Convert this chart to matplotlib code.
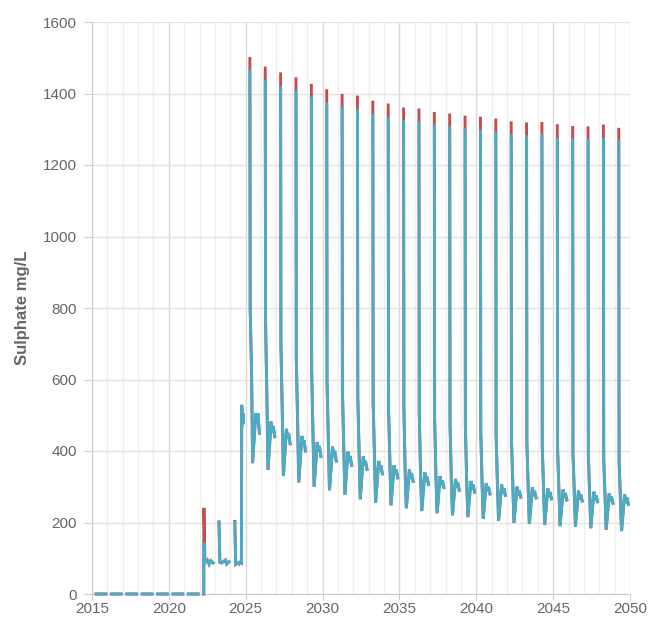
import numpy as np
import matplotlib
matplotlib.use("Agg")
import matplotlib.pyplot as plt
from matplotlib.ticker import MultipleLocator

plt.rcParams['font.family'] = ['Liberation Sans', 'DejaVu Sans']

# ---- data -------------------------------------------------------------
# years before discharge begins: sulphate stays at zero
zero_years = list(range(2015, 2022))

# transition years 2022-2024 (time, blue value); red differs only at peaks
early_t = [
    [2022.27, 2022.28, 2022.35, 2022.50, 2022.62, 2022.73, 2022.88],
    [2023.26, 2023.32, 2023.42, 2023.53, 2023.68, 2023.76, 2023.90],
    [2024.29, 2024.35, 2024.44, 2024.57, 2024.67, 2024.72, 2024.74, 2024.78, 2024.82, 2024.86],
]
early_blue = [
    [0, 143, 88, 95, 83, 93, 87],
    [200, 88, 87, 90, 95, 84, 90],
    [200, 84, 88, 84, 90, 88, 529, 470, 505, 480],
]
early_red = [
    [0, 241, 88, 95, 83, 93, 87],
    [202, 88, 87, 90, 95, 84, 90],
    [203, 84, 88, 84, 90, 88, 529, 470, 505, 480],
]

# annual flushing cycles 2025-2049
cycle_years = list(range(2025, 2050))
peak_red = [1498, 1471, 1455, 1441, 1423, 1408, 1395, 1390, 1376, 1368, 1357, 1354, 1344,
            1340, 1334, 1331, 1326, 1318, 1315, 1316, 1310, 1305, 1304, 1309, 1300]
peak_blue = [1463, 1435, 1416, 1405, 1387, 1371, 1360, 1352, 1338, 1330, 1321, 1318, 1310,
             1304, 1298, 1295, 1290, 1282, 1279, 1282, 1273, 1270, 1269, 1272, 1265]
drop = [800, 765, 700, 660, 625, 595, 570, 552, 535, 522, 520, 505, 492,
        480, 468, 456, 445, 432, 422, 414, 405, 396, 388, 380, 372]
knee = [620, 545, 505, 475, 450, 430, 412, 396, 382, 370, 330, 325, 320,
        315, 310, 305, 300, 296, 292, 288, 284, 280, 276, 271, 263]
trough = [366, 347, 330, 312, 300, 290, 278, 265, 255, 248, 240, 232, 226,
          220, 215, 210, 205, 199, 196, 193, 190, 188, 184, 180, 176]
bump = [506, 482, 462, 442, 425, 412, 398, 385, 372, 360, 348, 340, 330,
        322, 316, 310, 306, 300, 298, 295, 292, 289, 286, 282, 279]
dip = [478, 452, 435, 415, 398, 385, 372, 360, 348, 336, 322, 314, 305,
       298, 292, 286, 282, 276, 274, 271, 268, 265, 262, 258, 255]
bump2 = [506, 470, 450, 430, 414, 400, 386, 372, 360, 348, 338, 328, 318,
         312, 306, 300, 296, 290, 288, 285, 282, 279, 276, 272, 270]
tail = [450, 440, 420, 400, 385, 372, 360, 348, 336, 325, 315, 306, 298,
        290, 285, 280, 276, 271, 269, 266, 263, 260, 258, 254, 251]

# timing within each year (fraction of a year)
onset = 0.27
season_end = 0.90
cycle_offsets = [0.0, 0.02, 0.11, 0.18, 0.38, 0.45, 0.52, 0.62]

RED = '#c0504d'
BLUE = '#4bacc6'


def build_series(peaks, early):
    t_all, v_all = [], []
    for y in zero_years:
        t_all += [y + onset, y + season_end, np.nan]
        v_all += [0, 0, np.nan]
    for ts, vs in zip(early_t, early):
        t_all += list(ts) + [np.nan]
        v_all += list(vs) + [np.nan]
    for i, y in enumerate(cycle_years):
        vals = [peaks[i], drop[i], knee[i], trough[i], bump[i], dip[i], bump2[i], tail[i]]
        t_all += [y + onset + o for o in cycle_offsets] + [np.nan]
        v_all += vals + [np.nan]
    return np.array(t_all, dtype=float), np.array(v_all, dtype=float)


t_red, v_red = build_series(peak_red, early_red)
t_blue, v_blue = build_series(peak_blue, early_blue)

# ---- figure -----------------------------------------------------------
fig = plt.figure(figsize=(6.53, 6.25), dpi=100)
ax = fig.add_axes([92 / 653, 31 / 625, 538 / 653, 572 / 625])

ax.plot(t_red, v_red, color=RED, lw=2.1, solid_joinstyle='miter', clip_on=False, zorder=3)
ax.plot(t_blue, v_blue, color=BLUE, lw=2.1, solid_joinstyle='miter', clip_on=False, zorder=4)

ax.set_xlim(2015, 2050)
ax.set_ylim(0, 1600)
ax.xaxis.set_major_locator(MultipleLocator(5))
ax.xaxis.set_minor_locator(MultipleLocator(1))
ax.yaxis.set_major_locator(MultipleLocator(200))

ax.grid(which='major', axis='x', color='#d9d9d9', lw=1.0, zorder=0)
ax.grid(which='minor', axis='x', color='#efefef', lw=1.0, zorder=0)
ax.grid(which='major', axis='y', color='#e3e3e3', lw=1.0, zorder=0)
ax.set_axisbelow(True)

for side in ('top', 'right'):
    ax.spines[side].set_visible(False)
ax.spines['left'].set_color('#cccccc')
ax.spines['bottom'].set_color('#cccccc')

ax.tick_params(axis='y', which='major', length=6, color='#cccccc', labelcolor='#666666',
               labelsize=11, pad=5)
ax.tick_params(axis='x', which='major', length=4, color='#cccccc', labelcolor='#666666',
               labelsize=11, pad=2)
ax.tick_params(axis='x', which='minor', length=0)

ax.set_xticklabels([str(int(v)) for v in ax.get_xticks()])
ax.set_ylabel('Sulphate mg/L', fontsize=12, fontweight='bold', color='#666666', labelpad=9)

fig.savefig('out.png', dpi=100)
